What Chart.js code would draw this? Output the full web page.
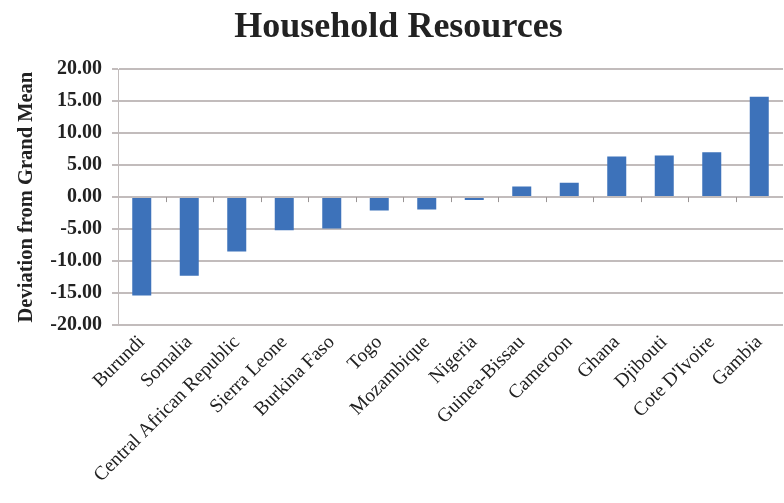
<!DOCTYPE html>
<html>
<head>
<meta charset="utf-8">
<script src="https://cdn.jsdelivr.net/npm/chart.js@4/dist/chart.umd.min.js"></script>
<style>
  html, body { margin: 0; padding: 0; background: #fff; }
  #wrap { width: 784px; height: 503px; }
</style>
</head>
<body>
<div id="wrap"><canvas id="chart" width="784" height="503"></canvas></div>
<script>
// data
const countries = [
  "Burundi", "Somalia", "Central African Republic", "Sierra Leone", "Burkina Faso",
  "Togo", "Mozambique", "Nigeria", "Guinea-Bissau", "Cameroon",
  "Ghana", "Djibouti", "Cote D'Ivoire", "Gambia"
];
const deviation = [
  -15.4, -12.3, -8.5, -5.2, -4.9,
  -2.1, -1.95, -0.45, 1.65, 2.25,
  6.35, 6.5, 7.0, 15.7
];
const yTicks = [-20, -15, -10, -5, 0, 5, 10, 15, 20];

const SERIF = "'Liberation Serif', 'Times New Roman', serif";
const GRID = "#c2bcbc";

// small tick marks hanging under the zero line, like the Excel original
const zeroTicks = {
  id: "zeroTicks",
  afterDatasetsDraw(chart) {
    const { ctx } = chart;
    const x = chart.scales.x;
    const y0 = chart.scales.y.getPixelForValue(0);
    ctx.save();
    ctx.strokeStyle = "#9a9494";
    ctx.lineWidth = 1;
    for (let i = 1; i < countries.length; i++) {
      const px = Math.round((x.getPixelForTick(i - 1) + x.getPixelForTick(i)) / 2) + 0.5;
      ctx.beginPath();
      ctx.moveTo(px, y0);
      ctx.lineTo(px, y0 + 5);
      ctx.stroke();
    }
    ctx.restore();
  }
};

new Chart(document.getElementById("chart"), {
  type: "bar",
  data: {
    labels: countries,
    datasets: [{
      data: deviation,
      backgroundColor: "#3d72ba",
      borderWidth: 0,
      barPercentage: 0.4,
      categoryPercentage: 1
    }]
  },
  options: {
    responsive: false,
    animation: false,
    layout: { padding: { top: 4, right: 1, left: 14, bottom: 0 } },
    plugins: {
      legend: { display: false },
      tooltip: { enabled: false },
      title: {
        display: true,
        text: "Household Resources",
        color: "#222",
        font: { family: SERIF, size: 36, weight: "bold" },
        padding: { top: 2, bottom: 20 }
      }
    },
    scales: {
      x: {
        grid: { display: false, drawTicks: false },
        border: { display: false },
        ticks: {
          color: "#222",
          font: { family: SERIF, size: 19.5 },
          minRotation: 45,
          maxRotation: 45,
          autoSkip: false,
          padding: 6
        },
        afterFit(scale) { scale.height = 178; }
      },
      y: {
        min: -20,
        max: 20,
        afterBuildTicks(scale) { scale.ticks = yTicks.map(v => ({ value: v })); },
        grid: { color: GRID, lineWidth: 2, tickLength: 6 },
        border: { display: true, color: GRID, width: 1 },
        ticks: {
          color: "#222",
          font: { family: SERIF, size: 20, weight: "bold" },
          padding: 10,
          callback: v => v.toFixed(2)
        },
        title: {
          display: true,
          text: "Deviation from Grand Mean",
          color: "#222",
          font: { family: SERIF, size: 20.5, weight: "bold" },
          padding: { top: 0, bottom: 1 }
        },
        afterFit(scale) { scale.width = 104; }
      }
    }
  },
  plugins: [zeroTicks]
});
</script>
</body>
</html>
